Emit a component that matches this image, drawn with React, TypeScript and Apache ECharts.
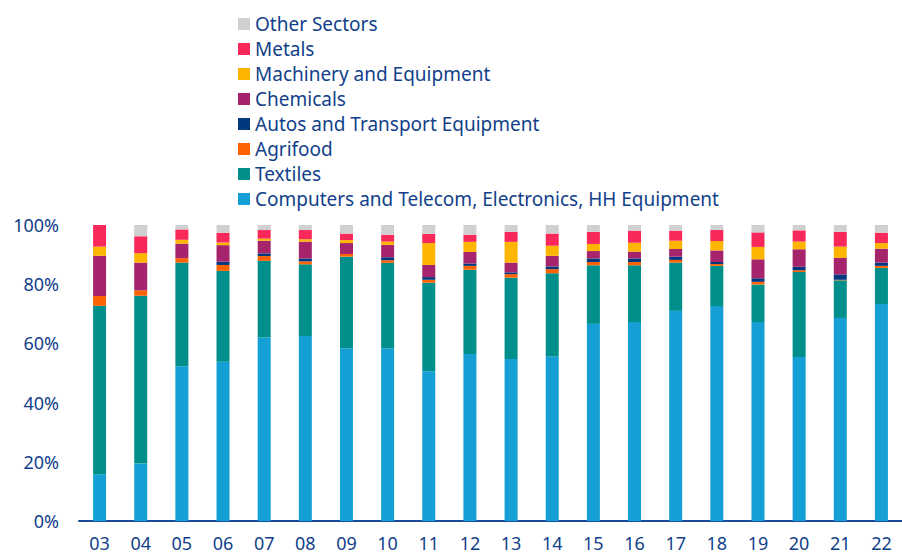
import React, { useEffect, useRef } from "react";
import * as echarts from "echarts";

const years = ["03","04","05","06","07","08","09","10","11","12","13","14","15","16","17","18","19","20","21","22"];
const yTicks = [0, 20, 40, 60, 80, 100];

const computers = [15.8,19.4,52.3,53.8,62.0,62.5,58.4,58.4,50.6,56.4,54.7,55.7,66.6,67.2,71.0,72.6,67.2,55.4,68.6,73.3];
const textiles  = [56.9,56.7,35.0,30.7,25.9,24.2,30.9,28.8,29.9,28.5,27.5,28.0,19.8,19.2,16.3,13.6,12.7,28.7,12.7,12.2];
const agrifood  = [3.3,1.8,1.5,2.0,1.6,1.0,0.9,0.9,1.0,1.3,1.2,1.4,1.1,1.1,0.9,0.6,0.9,0.6,0.2,0.7];
const autos     = [0,0,0,1.1,0.9,1.0,0,1.0,0.9,0.8,0.6,0.9,1.2,1.2,1.1,0.7,1.2,1.2,1.8,1.1];
const chemicals = [13.6,9.4,4.9,5.6,4.3,5.7,3.7,4.2,4.1,3.9,3.3,3.6,2.5,2.3,2.6,3.9,6.4,5.9,5.6,4.7];
const machinery = [3.1,3.2,1.3,0.9,0.7,0.8,1.0,1.1,7.4,3.4,7.0,3.4,2.4,3.0,2.8,3.2,4.2,2.6,3.8,1.9];
const metals    = [7.3,5.7,3.5,3.3,2.9,3.1,2.2,2.3,3.1,2.4,3.4,4.1,4.1,4.1,3.4,3.7,4.9,3.8,5.0,3.5];
const other     = [0,3.8,1.5,2.6,1.7,1.7,2.9,3.3,3.0,3.3,2.3,2.9,2.3,1.9,1.9,1.7,2.5,1.8,2.3,2.6];

const seriesDefs = [
  { name: "Computers and Telecom, Electronics, HH Equipment", data: computers, color: "#14a0d4" },
  { name: "Textiles", data: textiles, color: "#008f8a" },
  { name: "Agrifood", data: agrifood, color: "#fd6300" },
  { name: "Autos and Transport Equipment", data: autos, color: "#00377f" },
  { name: "Chemicals", data: chemicals, color: "#a5246b" },
  { name: "Machinery and Equipment", data: machinery, color: "#fdb500" },
  { name: "Metals", data: metals, color: "#f9285b" },
  { name: "Other Sectors", data: other, color: "#d0d0d0" },
];

const legendOrder = [
  "Other Sectors",
  "Metals",
  "Machinery and Equipment",
  "Chemicals",
  "Autos and Transport Equipment",
  "Agrifood",
  "Textiles",
  "Computers and Telecom, Electronics, HH Equipment",
];

const FONT = "'Noto Sans', sans-serif";
const TEXT_COLOR = "#123f8a";

export default function App() {
  const ref = useRef<HTMLDivElement>(null);
  useEffect(() => {
    if (!ref.current) return;
    const chart = echarts.init(ref.current, undefined, { renderer: "svg" });
    chart.setOption({
      animation: false,
      legend: {
        orient: "vertical",
        left: 233,
        top: 9,
        itemWidth: 12,
        itemHeight: 12,
        itemGap: 5,
        icon: "rect",
        data: legendOrder,
        textStyle: { fontFamily: FONT, fontSize: 19, color: TEXT_COLOR, lineHeight: 20 },
        selectedMode: false,
      },
      grid: { left: 79, top: 225, width: 829, height: 296, containLabel: false },
      xAxis: {
        type: "category",
        data: years,
        axisLine: { lineStyle: { color: "#1b4a96", width: 2 } },
        axisTick: { show: false },
        axisLabel: { fontFamily: FONT, fontSize: 18, lineHeight: 17, color: TEXT_COLOR, margin: 13 },
      },
      yAxis: {
        type: "value",
        min: yTicks[0],
        max: yTicks[yTicks.length - 1],
        interval: 20,
        splitLine: { show: false },
        axisLine: { show: false },
        axisTick: { show: false },
        axisLabel: { fontFamily: FONT, fontSize: 18, color: TEXT_COLOR, margin: 20, formatter: "{value}%" },
      },
      series: seriesDefs.map((s) => ({
        name: s.name,
        type: "bar",
        stack: "total",
        data: s.data,
        barWidth: 13,
        itemStyle: { color: s.color },
      })),
    });
    return () => chart.dispose();
  }, []);
  return <div ref={ref} style={{ position: "absolute", left: 0, top: 0, width: 902, height: 556 }} />;
}
